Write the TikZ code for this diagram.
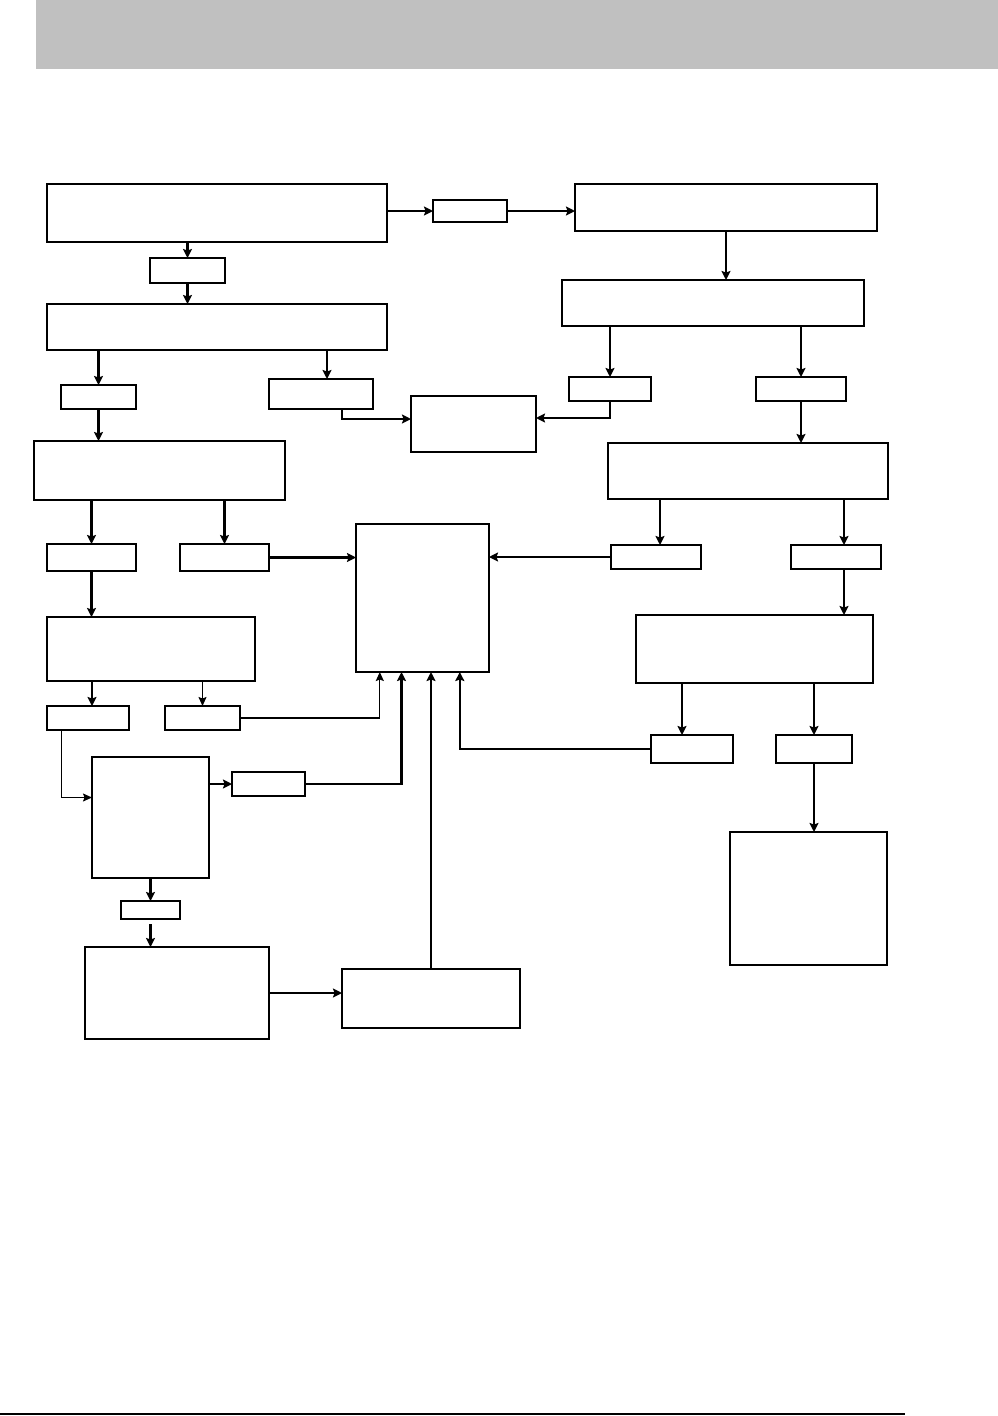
\documentclass[tikz,border=0pt]{standalone}
\usetikzlibrary{arrows.meta}
\newcommand\bx[5]{\node[bx,minimum width={(#4-#2)*1pt},minimum height={(#5-#3)*1pt}] (#1) at ({(#2+#4)/2},{(#3+#5)/2}) {};}
\tikzset{
  bx/.style={draw,line width=2.1pt,inner sep=0pt,outer sep=0pt,rectangle},
  arr/.style={line width=2.1pt,-{Stealth[length=9pt,width=9pt,inset=1.5pt]}},
  tarr/.style={line width=1.3pt,-{Stealth[length=9pt,width=8pt,inset=1.5pt]}}
}
\begin{document}
\begin{tikzpicture}[x=1pt,y=-1pt]
\useasboundingbox (0,0) rectangle (998,1416);
\fill[fill={rgb,255:red,192;green,192;blue,192}] (36,0) rectangle (998,69);
\draw[line width=2.5pt] (0,1414) -- (905,1414);
% boxes
\bx{A}{47}{184}{387}{242}
\bx{B}{433}{200}{507}{222}
\bx{C}{575}{184}{877}{231}
\bx{D}{150}{258}{225}{283}
\bx{E}{47}{304}{387}{350}
\bx{F}{562}{280}{864}{326}
\bx{G}{61}{385}{136}{409}
\bx{H}{269}{379}{373}{409}
\bx{I}{411}{396}{536}{452}
\bx{J}{569}{377}{651}{401}
\bx{K}{756}{377}{846}{401}
\bx{L}{34}{441}{285}{500}
\bx{M}{608}{443}{888}{499}
\bx{N}{47}{544}{136}{571}
\bx{O}{180}{544}{269}{571}
\bx{P}{356}{524}{489}{672}
\bx{Q}{611}{545}{701}{569}
\bx{R}{791}{545}{881}{569}
\bx{S}{47}{617}{255}{681}
\bx{T}{636}{615}{873}{683}
\bx{U}{47}{706}{129}{730}
\bx{V}{165}{706}{240}{730}
\bx{W}{92}{757}{209}{878}
\bx{X}{232}{772}{305}{796}
\bx{Y}{651}{735}{733}{763}
\bx{Z}{776}{735}{852}{763}
\bx{AA}{730}{832}{887}{965}
\bx{BB}{121}{901}{180}{919}
\bx{CC}{85}{947}{269}{1039}
\bx{DD}{342}{969}{520}{1028}
% connectors
\draw[arr] (A.east |- B.west) -- (B.west);
\draw[arr] (B.east) -- (B.east -| C.west);
\draw[arr] (D.north |- A.south) -- (D.north);
\draw[arr] (D.south) -- (D.south |- E.north);
\draw[arr] (G.north |- E.south) -- (G.north);
\draw[arr] ([xshift=6pt]H.north |- E.south) -- ([xshift=6pt]H.north);
\draw[arr] (G.south) -- (G.south |- L.north);
\draw[arr] ([xshift=21pt]H.south) |- ([yshift=5pt]I.west);
\draw[arr] (J.south) |- ([yshift=6pt]I.east);
\draw[arr] (C.south) -- (C.south |- F.north);
\draw[arr] (J.north |- F.south) -- (J.north);
\draw[arr] (K.north |- F.south) -- (K.north);
\draw[arr] (K.south) -- (K.south |- M.north);
\draw[arr] (N.north |- L.south) -- (N.north);
\draw[arr] (O.north |- L.south) -- (O.north);
\draw[arr] (O.east) -- (O.east -| P.west);
\draw[arr] (Q.west) -- (Q.west -| P.east);
\draw[arr] (N.south) -- (N.south |- S.north);
\draw[arr] ([xshift=4pt]Q.north |- M.south) -- ([xshift=4pt]Q.north);
\draw[arr] ([xshift=8pt]R.north |- M.south) -- ([xshift=8pt]R.north);
\draw[arr] ([xshift=8pt]R.south) -- ([xshift=8pt]R.south |- T.north);
\draw[arr] ([xshift=4pt]U.north |- S.south) -- ([xshift=4pt]U.north);
\draw[tarr] (V.north |- S.south) -- (V.north);
\draw[tarr] (V.east) -| ([xshift=-42.7pt]P.south);
\draw[arr] (X.east) -| ([xshift=-21pt]P.south);
\draw[arr] (DD.north) -- (DD.north |- P.south);
\draw[arr] (Y.west) -| ([xshift=37.3pt]P.south);
\draw[arr] ([xshift=-10pt]Y.north |- T.south) -- ([xshift=-10pt]Y.north);
\draw[arr] (Z.north |- T.south) -- (Z.north);
\draw[arr] (Z.south) -- (Z.south |- AA.north);
\draw[tarr] ([xshift=-26.3pt]U.south) |- ([yshift=20pt]W.west);
\draw[arr] (X.west -| W.east) -- (X.west);
\draw[arr] (BB.north |- W.south) -- (BB.north);
\draw[arr] ([yshift=-5pt]BB.south) -- (BB.south |- CC.north);
\draw[arr] (CC.east) -- (CC.east -| DD.west);
\end{tikzpicture}
\end{document}
